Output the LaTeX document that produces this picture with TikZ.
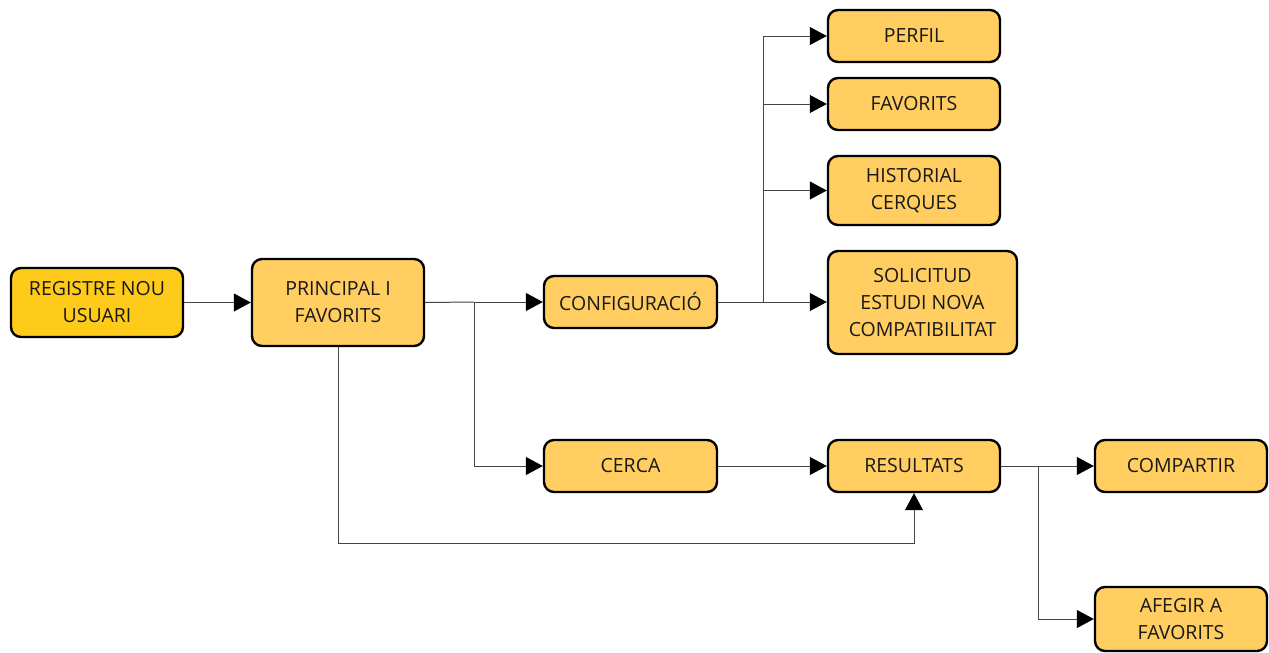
\documentclass[tikz,border=0pt]{standalone}
\usepackage{fontspec}
\setmainfont{Open Sans}
\usetikzlibrary{arrows.meta}
\definecolor{boxfill}{HTML}{FFCD60}
\definecolor{startfill}{HTML}{FFCB1A}
\definecolor{linkgray}{HTML}{454545}
\tikzset{
  box/.style={draw=black, line width=2.4pt, rounded corners=10pt, fill=boxfill,
    align=center, inner sep=0pt, font=\fontsize{19.5}{27}\selectfont, text=black!90},
  link/.style={draw=linkgray, line width=1pt,
    -{Triangle[length=17pt,width=18pt,color=black,fill=black]}},
  plain/.style={draw=linkgray, line width=1pt},
}
\begin{document}
\begin{tikzpicture}[x=1pt, y=-1pt]
\useasboundingbox (0,0) rectangle (1269,653);
\fill[white] (0,0) rectangle (1269,653);

% boxes
\node[box, fill=startfill, minimum width=172pt, minimum height=69pt] (reg) at (97,302.5) {REGISTRE NOU\\USUARI};
\node[box, minimum width=172pt, minimum height=87pt] (prin) at (338,302.5) {PRINCIPAL I\\FAVORITS};
\node[box, minimum width=173pt, minimum height=52pt] (conf) at (630.5,302) {CONFIGURACIÓ};
\node[box, minimum width=172pt, minimum height=52pt] (perf) at (914,36) {PERFIL};
\node[box, minimum width=172pt, minimum height=52pt] (fav) at (914,104) {FAVORITS};
\node[box, minimum width=172pt, minimum height=69pt] (hist) at (914,190.5) {HISTORIAL\\CERQUES};
\node[box, minimum width=189pt, minimum height=103pt] (sol) at (922.5,302.5) {SOLICITUD\\ESTUDI NOVA\\COMPATIBILITAT};
\node[box, minimum width=173pt, minimum height=52pt] (cerca) at (630.5,466) {CERCA};
\node[box, minimum width=172pt, minimum height=52pt] (res) at (914,466) {RESULTATS};
\node[box, minimum width=172pt, minimum height=52pt] (comp) at (1181,466) {COMPARTIR};
\node[box, minimum width=172pt, minimum height=64pt] (afeg) at (1181,619) {AFEGIR A\\FAVORITS};

% junction points
\coordinate (j1) at (474,302);
\coordinate (j2) at (763,302);
\coordinate (j3) at (1038,466);
\coordinate (j4) at (338,543);

% connectors
\draw[link] (reg.east) -- (prin.east -| prin.west);
\draw[plain] (prin.east) -- (j1);
\draw[link] (j1) -- (conf.west);
\draw[link] (j1) |- (cerca.west);
\draw[plain] (conf.east) -- (j2);
\draw[link] (j2) -- (sol.west |- j2);
\draw[plain] (j2) -- (j2 |- perf.west);
\draw[link] (j2 |- perf.west) -- (perf.west);
\draw[link] (j2 |- fav.west) -- (fav.west);
\draw[link] (j2 |- hist.west) -- (hist.west);
\draw[link] (cerca.east) -- (res.west);
\draw[link] (prin.south) -- (j4) -| (res.south);
\draw[plain] (res.east) -- (j3);
\draw[link] (j3) -- (comp.west);
\draw[link] (j3) |- (afeg.west);
\end{tikzpicture}
\end{document}
